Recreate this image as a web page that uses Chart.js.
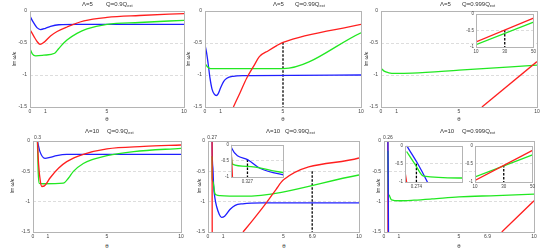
<!DOCTYPE html>
<html>
<head>
<meta charset="utf-8">
<script src="https://cdn.jsdelivr.net/npm/chart.js@4.4.1/dist/chart.umd.min.js"></script>
<style>
  body { margin: 0; background: #fff; }
  #wrap { position: relative; width: 550px; height: 250px; overflow: hidden; font-family: "Liberation Sans", Arial, sans-serif; color: #333; }
  canvas { position: absolute; }
  .t { position: absolute; font-size: 6px; white-space: nowrap; line-height: 1; }
  .t sub { font-size: 4px; position: relative; top: 1px; vertical-align: baseline; }
  .yl { position: absolute; font-size: 5px; white-space: nowrap; transform: translate(-50%, -50%) rotate(-90deg); }
  .xl { position: absolute; font-size: 6px; color: #333; transform: translate(-50%, -50%); }
</style>
</head>
<body>
<div id="wrap"></div>
<script>
var wrap = document.getElementById("wrap");

var red = "#ff1f1f", green = "#22e822", blue = "#1f1fff";
var xTicks = [0, 1, 5, 10];
var xTicks69 = [0, 1, 5, 6.9, 10];
var yTicks = [-1.5, -1, -0.5, 0];
var insetYTicks = [-1, -0.5, 0];
var insetXTicks = [10, 30, 50];

// Λ=5, Q=0.9Qext
var p1Red = [[0,-0.29],[0.26,-0.40],[0.47,-0.48],[0.65,-0.52],[0.9,-0.49],[1.33,-0.39],[1.76,-0.32],[2.4,-0.25],[3.5,-0.155],[5,-0.10],[7.1,-0.07],[10,-0.04]];
var p1Green = [[0,-0.59],[0.15,-0.67],[0.37,-0.70],[0.9,-0.69],[1.6,-0.66],[1.87,-0.585],[2.4,-0.455],[3.05,-0.35],[3.7,-0.28],[5,-0.21],[7.1,-0.18],[10,-0.145]];
var p1Blue = [[0,-0.08],[0.2,-0.17],[0.45,-0.26],[0.69,-0.29],[1.0,-0.27],[1.33,-0.24],[1.87,-0.215],[3,-0.21],[10,-0.21]];

// Λ=5, Q=0.99Qext
var p2Red = [[1.82,-1.5],[2.24,-1.28],[2.67,-1.05],[3.1,-0.87],[3.5,-0.71],[4.06,-0.62],[4.6,-0.54],[5,-0.49],[10,-0.21]];
var p2Green = [[0,-0.82],[0.15,-0.87],[0.35,-0.9],[1,-0.9],[5,-0.9],[10,-0.34]];
var p2Blue = [[0,-0.53],[0.1,-0.65],[0.2,-0.82],[0.32,-1.05],[0.45,-1.22],[0.6,-1.3],[0.72,-1.32],[0.85,-1.29],[1.0,-1.2],[1.2,-1.1],[1.4,-1.05],[1.8,-1.02],[2.5,-1.01],[10,-1.0]];
var p2Mark = [[5,-0.49],[5,-1.5]];

// Λ=5, Q=0.999Qext
var p3Red = [[6.47,-1.5],[10,-0.79]];
var p3Green = [[0,-0.895],[0.2,-0.94],[0.5,-0.965],[0.9,-0.975],[2,-0.97],[5,-0.925],[10,-0.845]];
var p3InsetRed = [[10,-0.85],[50,-0.13]];
var p3InsetGreen = [[10,-0.93],[50,-0.25]];
var p3InsetMark = [[30,-0.49],[30,-1]];

// Λ=10, Q=0.9Qext
var p4Red = [[0.3,0],[0.38,-0.39],[0.5,-0.67],[0.6,-0.75],[0.77,-0.74],[1.15,-0.61],[1.72,-0.45],[2.28,-0.34],[3.4,-0.22],[5,-0.13],[7.5,-0.09],[10,-0.066]];
var p4Green = [[0.3,0],[0.35,-0.5],[0.42,-0.7],[0.7,-0.705],[2.05,-0.695],[2.4,-0.61],[2.73,-0.5],[3.4,-0.37],[4.1,-0.3],[5,-0.24],[6.8,-0.175],[10,-0.12]];
var p4Blue = [[0.3,0],[0.47,-0.175],[0.81,-0.285],[1.15,-0.27],[1.6,-0.24],[2.28,-0.22],[10,-0.22]];

// Λ=10, Q=0.99Qext
var p5Red = [[0.27,0],[0.275,-1],[0.28,-1.6],[1,null],[2.32,-1.5],[2.98,-1.3],[3.86,-1.02],[4.5,-0.8],[5,-0.64],[10,-0.28]];
var p5Green = [[0.27,-0.25],[0.275,-0.6],[0.327,-0.67],[0.45,-0.86],[0.57,-0.89],[0.8,-0.9],[2.3,-0.91],[10,-0.56]];
var p5Blue = [[0.27,0],[0.272,-0.1],[0.327,-0.46],[0.37,-0.73],[0.45,-0.93],[0.57,-1.08],[0.75,-1.21],[0.9,-1.26],[1.1,-1.24],[1.45,-1.13],[1.8,-1.06],[2.3,-1.035],[3.6,-1.02],[10,-1.02]];
var p5Mark = [[6.9,-0.5],[6.9,-1.5]];
var p5InsetMark = [[0.327,-0.46],[0.327,-1]];

// Λ=10, Q=0.999Qext
var p6Red = [[0.255,0],[0.262,-1],[0.266,-1.6],[1,null],[7.85,-1.5],[10,-0.985]];
var p6Green = [[0.262,-0.16],[0.272,-0.5],[0.283,-0.84],[0.33,-0.89],[0.5,-0.97],[1,-0.985],[2,-0.975],[3.2,-0.955],[5,-0.92],[7.5,-0.9],[10,-0.875]];
var p6Blue = [[0.262,0],[0.275,-0.47],[0.2875,-1],[0.3,-1.6]];
var p6InsetMarkA = [[0.274,-0.5],[0.274,-1]];
var p6InsetRed = [[10,-0.96],[50,-0.13]];
var p6InsetGreen = [[10,-0.86],[50,-0.25]];
var p6InsetMarkB = [[30,-0.53],[30,-1]];

var tickFont = { family: "Liberation Sans", size: 5 };
var insetFont = { family: "Liberation Sans", size: 4.5 };

function pts(arr) {
    return arr.map(function (p) { return { x: p[0], y: p[1] }; });
}
function curve(arr, color) {
    return { data: pts(arr), borderColor: color, borderWidth: 1.3, pointRadius: 0, cubicInterpolationMode: "monotone", spanGaps: false };
}
function mark(arr) {
    return { data: pts(arr), borderColor: "#000", borderWidth: 1.3, borderDash: [2.5, 1.5], pointRadius: 0 };
}

// frame round the plot area, white fill for insets, top tick text
var framePlugin = {
    id: "frame",
    beforeDatasetsDraw: function (chart, args, o) {
        var a = chart.chartArea, ctx = chart.ctx;
        if (o.fill) {
            ctx.save();
            ctx.fillStyle = "#fff";
            ctx.fillRect(a.left, a.top, a.right - a.left, a.bottom - a.top);
            ctx.restore();
            // redraw grid over fill
            chart.scales.y.drawGrid(a);
        }
    },
    afterDraw: function (chart, args, o) {
        var a = chart.chartArea, ctx = chart.ctx;
        ctx.save();
        ctx.strokeStyle = "#b4b4b4";
        ctx.lineWidth = 1;
        ctx.strokeRect(Math.round(a.left) + 0.5, Math.round(a.top) + 0.5, Math.round(a.right - a.left), Math.round(a.bottom - a.top));
        if (o.topTick != null) {
            ctx.fillStyle = "#444";
            ctx.font = "5px 'Liberation Sans'";
            ctx.textAlign = "center";
            ctx.textBaseline = "bottom";
            ctx.fillText(String(o.topTick), chart.scales.x.getPixelForValue(o.topTick), a.top - 0.5);
        }
        ctx.restore();
    }
};

function addChart(box, pad, xr, yr, xt, yt, sets, inset, topTick) {
    var c = document.createElement("canvas");
    var w = box[2] - box[0] + pad[0] + pad[2];
    var h = box[3] - box[1] + pad[1] + pad[3];
    var font = inset ? insetFont : tickFont;
    c.width = w;
    c.height = h;
    c.style.left = (box[0] - pad[0]) + "px";
    c.style.top = (box[1] - pad[1]) + "px";
    c.style.width = w + "px";
    c.style.height = h + "px";
    wrap.appendChild(c);
    return new Chart(c.getContext("2d"), {
        type: "line",
        data: { datasets: sets },
        options: {
            responsive: false,
            animation: false,
            devicePixelRatio: 1,
            layout: { padding: { left: 0, top: pad[1], right: pad[2], bottom: 0 } },
            plugins: {
                legend: { display: false },
                tooltip: { enabled: false },
                frame: { fill: inset, topTick: topTick }
            },
            scales: {
                x: {
                    type: "linear", min: xr[0], max: xr[1],
                    afterBuildTicks: function (s) { s.ticks = xt.map(function (v) { return { value: v }; }); },
                    afterFit: function (s) { s.height = pad[3]; },
                    grid: { display: false, drawTicks: false },
                    border: { display: false },
                    ticks: { font: font, color: "#444", padding: 2, maxRotation: 0, autoSkip: false,
                        callback: function (v) { return String(v); } }
                },
                y: {
                    type: "linear", min: yr[0], max: yr[1],
                    afterBuildTicks: function (s) { s.ticks = yt.map(function (v) { return { value: v }; }); },
                    afterFit: function (s) { s.width = pad[0]; },
                    grid: {
                        drawTicks: false, lineWidth: 0.8,
                        color: function (ctx) {
                            var v = ctx.tick ? ctx.tick.value : 0;
                            return (v === -0.5 || v === -1) ? "#d4d4d4" : "rgba(0,0,0,0)";
                        }
                    },
                    border: { display: false, dash: [3, 2] },
                    ticks: { font: font, color: "#444", padding: inset ? 2 : 3, autoSkip: false,
                        callback: function (v) { return String(v); } }
                }
            }
        },
        plugins: [framePlugin]
    });
}

function addText(cls, x, y, html) {
    var d = document.createElement("div");
    d.className = cls;
    d.style.left = x + "px";
    d.style.top = y + "px";
    d.innerHTML = html;
    wrap.appendChild(d);
}

var mainPad = [14, 6, 6, 10];
var insetPad = [14, 4, 4, 8];
var fullX = [0, 10], fullY = [-1.5, 0], insetY = [-1, 0];

// top row
addChart([30, 11, 184, 107], mainPad, fullX, fullY, xTicks, yTicks,
    [curve(p1Red, red), curve(p1Green, green), curve(p1Blue, blue)], false, null);
addChart([205, 11, 361, 107], mainPad, fullX, fullY, xTicks, yTicks,
    [curve(p2Red, red), curve(p2Green, green), curve(p2Blue, blue), mark(p2Mark)], false, null);
addChart([381, 11, 537, 107], mainPad, fullX, fullY, xTicks, yTicks,
    [curve(p3Red, red), curve(p3Green, green)], false, null);
addChart([476, 13, 534, 47], insetPad, [10, 50], insetY, insetXTicks, insetYTicks,
    [curve(p3InsetRed, red), curve(p3InsetGreen, green), mark(p3InsetMark)], true, null);

// bottom row
addChart([33, 141, 181, 232], mainPad, fullX, fullY, xTicks, yTicks,
    [curve(p4Red, red), curve(p4Green, green), curve(p4Blue, blue)], false, 0.3);
addChart([208, 141, 359, 232], mainPad, fullX, fullY, xTicks69, yTicks,
    [curve(p5Red, red), curve(p5Green, green), curve(p5Blue, blue), mark(p5Mark)], false, 0.27);
addChart([231, 144, 283, 177], insetPad, [0.27, 0.45], insetY, [0.327], insetYTicks,
    [curve(p5Red, red), curve(p5Green, green), curve(p5Blue, blue), mark(p5InsetMark)], true, null);
addChart([384, 141, 534, 232], mainPad, fullX, fullY, xTicks69, yTicks,
    [curve(p6Blue, blue), curve(p6Green, green), curve(p6Red, red)], false, 0.26);
addChart([405, 145, 462, 182], insetPad, [0.26, 0.33], insetY, [0.274], insetYTicks,
    [curve(p6Red, red), curve(p6Green, green), curve(p6Blue, blue), mark(p6InsetMarkA)], true, null);
addChart([475, 145, 533, 182], insetPad, [10, 50], insetY, insetXTicks, insetYTicks,
    [curve(p6InsetRed, red), curve(p6InsetGreen, green), mark(p6InsetMarkB)], true, null);

// titles
var lambdas = ["Λ=5", "Λ=5", "Λ=5", "Λ=10", "Λ=10", "Λ=10"];
var charges = ["0.9", "0.99", "0.999", "0.9", "0.99", "0.999"];
var lambdaX = [82, 273, 440, 85, 266, 440];
var chargeX = [106, 295, 462, 107, 285, 462];
var titleY = [1, 1, 1, 128, 128, 128];
for (var i = 0; i < 6; i++) {
    addText("t", lambdaX[i], titleY[i], lambdas[i]);
    addText("t", chargeX[i], titleY[i], "Q=" + charges[i] + "Q<sub>ext</sub>");
}

// axis labels
var yLabelX = [14, 188, 366, 12, 199, 378];
var yLabelY = [59, 59, 59, 186, 186, 186];
var xLabelX = [107, 283, 459, 107, 284, 459];
var xLabelY = [119, 119, 119, 246, 246, 246];
for (var j = 0; j < 6; j++) {
    addText("yl", yLabelX[j], yLabelY[j], "Im ω/κ");
    addText("xl", xLabelX[j], xLabelY[j], "θ");
}
</script>
</body>
</html>
